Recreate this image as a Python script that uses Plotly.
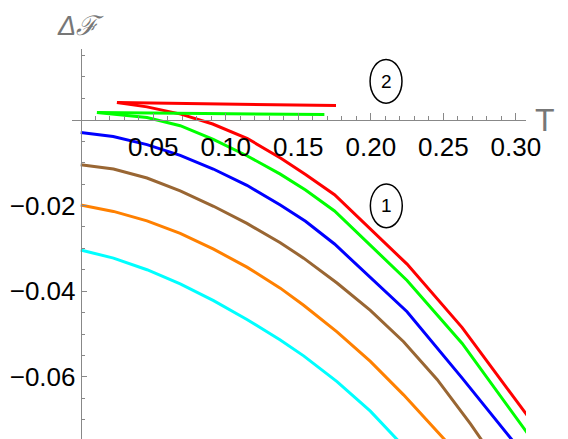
import plotly.graph_objects as go

# ---- data ----
T_red1 = [0.025, 0.0457, 0.069, 0.091, 0.115, 0.138, 0.155, 0.175, 0.225, 0.263, 0.31]
F_red1 = [0.0040, 0.0030, 0.0013, -0.0010, -0.0044, -0.0090, -0.0128, -0.0175, -0.0337, -0.0485, -0.0700]

T_green1 = [0.0112, 0.0457, 0.0686, 0.0914, 0.1146, 0.1376, 0.155, 0.175, 0.225, 0.263, 0.31]
F_green1 = [0.0017, 0.0005, -0.0014, -0.0046, -0.0084, -0.0127, -0.0164, -0.0213, -0.0375, -0.0522, -0.0741]

T_blue = [0, 0.0224, 0.0457, 0.0686, 0.0914, 0.1146, 0.1376, 0.155, 0.175, 0.225, 0.263, 0.30]
F_blue = [-0.0030, -0.0039, -0.0058, -0.0083, -0.0115, -0.0153, -0.0199, -0.0237, -0.0290, -0.0448, -0.0603, -0.0758]

T_brown = [0, 0.0226, 0.0457, 0.0686, 0.0916, 0.1146, 0.1376, 0.1537, 0.1767, 0.1997, 0.2226, 0.2457, 0.2686, 0.28]
F_brown = [-0.0105, -0.0115, -0.0136, -0.0166, -0.0202, -0.0242, -0.0287, -0.0323, -0.0381, -0.0445, -0.0518, -0.0606, -0.0709, -0.0765]

T_orange = [0, 0.0226, 0.0457, 0.0686, 0.0916, 0.1146, 0.1376, 0.1537, 0.1767, 0.1997, 0.2226, 0.2502, 0.26]
F_orange = [-0.0199, -0.0214, -0.0236, -0.0265, -0.0302, -0.0344, -0.0393, -0.0433, -0.0495, -0.0564, -0.0642, -0.0744, -0.0780]

T_cyan = [0, 0.0226, 0.0457, 0.0686, 0.0916, 0.1146, 0.1376, 0.1537, 0.1767, 0.1997, 0.2192, 0.23]
F_cyan = [-0.0304, -0.0323, -0.0350, -0.0383, -0.0422, -0.0466, -0.0514, -0.0551, -0.0611, -0.0680, -0.0750, -0.0790]

T_red2 = [0.025, 0.176]
F_red2 = [0.0040, 0.0033]
T_green2 = [0.0112, 0.168]
F_green2 = [0.0017, 0.0012]

x_ticks = [0.05, 0.10, 0.15, 0.20, 0.25, 0.30]
x_ticklabels = ["0.05", "0.10", "0.15", "0.20", "0.25", "0.30"]
y_ticks = [-0.06, -0.04, -0.02]
y_ticklabels = ["\u22120.06", "\u22120.04", "\u22120.02"]

# ---- figure ----
X_RANGE = [-0.006, 0.307]
Y_RANGE = [-0.0745, 0.0165]
FONT = "Liberation Sans, Arial, sans-serif"
AX = "#888888"

series = [
    (T_cyan, F_cyan, "#00FFFF"),
    (T_orange, F_orange, "#FF8000"),
    (T_brown, F_brown, "#996633"),
    (T_blue, F_blue, "#0000FF"),
    (T_green1, F_green1, "#00FF00"),
    (T_red1, F_red1, "#FF0000"),
    (T_green2, F_green2, "#00FF00"),
    (T_red2, F_red2, "#FF0000"),
]

fig = go.Figure()
for t, f, c in series:
    fig.add_trace(go.Scatter(x=t, y=f, mode="lines",
                             line=dict(color=c, width=3),
                             showlegend=False, hoverinfo="skip"))

xpos = (0 - Y_RANGE[0]) / (Y_RANGE[1] - Y_RANGE[0])
ypos = (0 - X_RANGE[0]) / (X_RANGE[1] - X_RANGE[0])

x_minor = [round(0.01 * i, 3) for i in range(1, 31) if i % 5 != 0]
y_minor = [round(-0.005 * i, 4) for i in range(-3, 15) if i % 4 != 0]

fig.update_layout(
    width=560, height=431,
    margin=dict(l=64, r=42, t=41, b=0, autoexpand=False),
    paper_bgcolor="white", plot_bgcolor="white",
    font=dict(family=FONT, size=26, color="black"),
    xaxis=dict(range=X_RANGE, anchor="free", position=xpos,
               showline=True, linecolor=AX, linewidth=1,
               showgrid=False, zeroline=False,
               tickmode="array", tickvals=x_ticks, ticktext=x_ticklabels,
               ticks="inside", ticklen=7, tickcolor=AX, tickwidth=1,
               ticklabelstandoff=4,
               minor=dict(tickmode="array", tickvals=x_minor, ticks="inside",
                          ticklen=4, tickcolor=AX, tickwidth=1, showgrid=False),
               tickfont=dict(family=FONT, size=26, color="black")),
    yaxis=dict(range=Y_RANGE, anchor="free", position=ypos,
               showline=True, linecolor=AX, linewidth=1,
               showgrid=False, zeroline=False,
               tickmode="array", tickvals=y_ticks, ticktext=y_ticklabels,
               ticks="inside", ticklen=5, tickcolor=AX, tickwidth=1,
               minor=dict(tickmode="array", tickvals=y_minor, ticks="inside",
                          ticklen=3, tickcolor=AX, tickwidth=1, showgrid=False),
               tickfont=dict(family=FONT, size=26, color="black")),
)

fig.add_annotation(x=1.042, y=0.818, xref="paper", yref="paper", text="T", showarrow=False,
                   font=dict(family=FONT, size=32, color="#777777"), xanchor="center", yanchor="middle")
fig.add_annotation(x=0.018, y=1.06, xref="paper", yref="paper", text="<i>Δℱ</i>", showarrow=False,
                   font=dict(family=FONT, size=27, color="#777777"), xanchor="center", yanchor="middle")

for cx, cy, label in [(0.2105, 0.00895, "2"), (0.2107, -0.0201, "1")]:
    fig.add_shape(type="circle", xref="x", yref="y",
                  x0=cx - 0.011, x1=cx + 0.011, y0=cy - 0.0051, y1=cy + 0.0051,
                  line=dict(color="black", width=1.5))
    fig.add_annotation(x=cx, y=cy, xref="x", yref="y", text=label, showarrow=False,
                       font=dict(family=FONT, size=19, color="black"))

fig.write_html("out.html")
